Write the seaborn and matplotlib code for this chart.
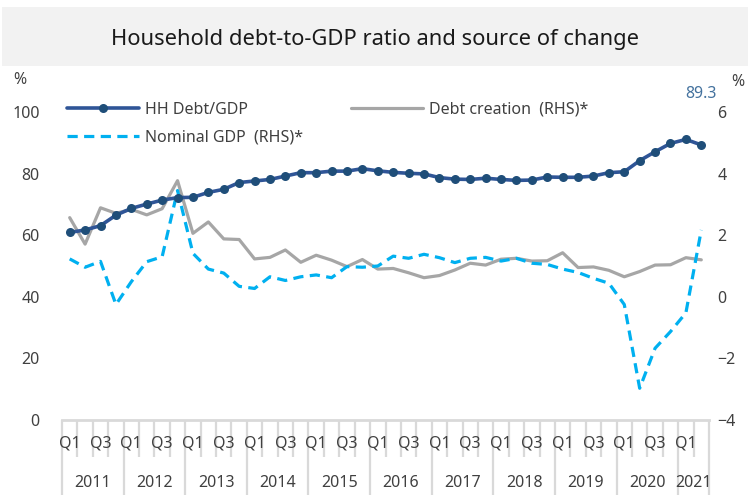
import numpy as np
import pandas as pd
import matplotlib
matplotlib.use("Agg")
import matplotlib.pyplot as plt
import matplotlib.transforms as mtransforms
from matplotlib.patches import Rectangle
import seaborn as sns

# ---------------------------------------------------------------------
# Data: quarterly, 2011Q1 - 2021Q2
# ---------------------------------------------------------------------
years = [str(y) for y in range(2011, 2022)]
quarter_names = ["Q1", "Q2", "Q3", "Q4"]

# HH Debt/GDP (%), left axis
hh_debt = [60.9, 61.7, 63.1, 66.5, 68.7, 70.1, 71.4, 72.2, 72.3, 73.9,
           74.9, 77.1, 77.6, 78.1, 79.2, 80.3, 80.3, 80.8, 80.8, 81.6,
           80.9, 80.4, 80.1, 79.9, 78.7, 78.2, 78.1, 78.5, 78.1, 77.8,
           77.9, 78.9, 78.8, 78.8, 79.2, 80.3, 80.6, 84.2, 87.1, 89.8,
           91.1, 89.3]

# Debt creation (RHS), %
debt_creation = [2.57, 1.71, 2.89, 2.71, 2.84, 2.66, 2.86, 3.77, 2.06, 2.43,
                 1.88, 1.86, 1.23, 1.28, 1.52, 1.12, 1.35, 1.19, 0.98, 1.21,
                 0.90, 0.92, 0.78, 0.62, 0.69, 0.87, 1.09, 1.03, 1.22, 1.25,
                 1.16, 1.17, 1.43, 0.95, 0.97, 0.86, 0.65, 0.82, 1.03, 1.04,
                 1.27, 1.20]

# Nominal GDP (RHS), %
nominal_gdp = [1.23, 0.96, 1.15, -0.25, 0.49, 1.14, 1.30, 3.45, 1.41, 0.90,
               0.77, 0.34, 0.27, 0.65, 0.53, 0.65, 0.71, 0.62, 0.98, 0.96,
               1.00, 1.32, 1.25, 1.38, 1.27, 1.11, 1.25, 1.28, 1.16, 1.25,
               1.09, 1.05, 0.90, 0.79, 0.60, 0.44, -0.25, -2.97, -1.67, -1.13,
               -0.52, 2.17]

n = len(hh_debt)
quarters = [quarter_names[i % 4] for i in range(n)]
year_of = [years[i // 4] for i in range(n)]

df = pd.DataFrame({
    "idx": np.arange(n),
    "year": year_of,
    "quarter": quarters,
    "hh": hh_debt,
    "debt": debt_creation,
    "gdp": nominal_gdp,
})

# ---------------------------------------------------------------------
# Style
# ---------------------------------------------------------------------
sns.set_theme(style="white")
plt.rcParams["font.family"] = ["Noto Sans", "DejaVu Sans"]
txt_col = "#404040"
tick_col = "#d9d9d9"

fig = plt.figure(figsize=(7.5, 4.95), dpi=100)
ax = fig.add_axes([62 / 750, 1 - 420 / 495, 647 / 750, 308 / 495])
ax2 = ax.twinx()

# title box
fig.patches.append(Rectangle((2 / 750, 1 - 66 / 495), 746 / 750, 59 / 495,
                             transform=fig.transFigure, facecolor="#f2f2f2",
                             edgecolor="none", zorder=0))
fig.text(0.5, 1 - 40 / 495, "Household debt-to-GDP ratio and source of change",
         ha="center", va="center", fontsize=15.8, color="#1a1a1a")

# lines
sns.lineplot(data=df, x="idx", y="debt", ax=ax2, color="#a6a6a6", lw=2.3,
             label="Debt creation  (RHS)*")
sns.lineplot(data=df, x="idx", y="gdp", ax=ax2, color="#00b0f0", lw=2.3,
             linestyle=(0, (3.2, 2)), label="Nominal GDP  (RHS)*")
sns.lineplot(data=df, x="idx", y="hh", ax=ax, color="#2f5597", lw=2.6,
             marker="o", markersize=6.5, markeredgewidth=0,
             markerfacecolor="#1f4e79", label="HH Debt/GDP")

ax.set_zorder(ax2.get_zorder() + 1)
ax.patch.set_visible(False)

ax.set_xlim(-0.5, n - 0.5)
ax.set_ylim(0, 100)
ax2.set_ylim(-4, 6)
ax.set_yticks(range(0, 101, 20))
ax2.set_yticks(range(-4, 7, 2))
ax.set_xticks([])
ax.set_xlabel("")
ax.set_ylabel("")
ax2.set_ylabel("")
ax2.set_xlabel("")

ax.tick_params(axis="y", length=0, pad=16, labelsize=11.5, labelcolor=txt_col)
ax2.tick_params(axis="y", length=0, pad=6, labelsize=11.5, labelcolor=txt_col)

for a in (ax, ax2):
    for s in ("top", "left", "right"):
        a.spines[s].set_visible(False)
    a.spines["bottom"].set_color(tick_col)
    a.spines["bottom"].set_linewidth(2)
ax2.spines["bottom"].set_visible(False)

# multi-level category axis
trans = mtransforms.blended_transform_factory(ax.transData, ax.transAxes)
for b in range(n + 1):
    is_year = (b % 4 == 0) or (b == n)
    ax.plot([b - 0.5, b - 0.5], [0, -0.245 if is_year else -0.12],
            transform=trans, color=tick_col, lw=1.6, clip_on=False,
            solid_capstyle="butt")
for i, q in enumerate(quarters):
    if q in ("Q1", "Q3"):
        ax.text(i, -0.075, q, transform=trans, ha="center", va="center",
                fontsize=11.5, color=txt_col)
for y in years:
    idxs = df.loc[df["year"] == y, "idx"]
    ax.text(idxs.mean(), -0.203, y, transform=trans, ha="center",
            va="center", fontsize=11.5, color=txt_col)

# unit labels
fig.text(20 / 750, 1 - 80 / 495, "%", ha="center", va="center",
         fontsize=11.5, color=txt_col)
fig.text(738 / 750, 1 - 82 / 495, "%", ha="center", va="center",
         fontsize=11.5, color=txt_col)

# last value label
ax.annotate(f"{hh_debt[-1]:.1f}", xy=(n - 1, hh_debt[-1]), xytext=(0, 37),
            textcoords="offset points", ha="center", va="center",
            fontsize=11.5, color="#44729e")

# legend
h1, l1 = ax.get_legend_handles_labels()
h2, l2 = ax2.get_legend_handles_labels()
ax.get_legend().remove()
ax2.get_legend().remove()
handles = [h1[0], h2[1], h2[0]]
labels = [l1[0], l2[1], l2[0]]
fig.legend(handles, labels, ncol=2, loc="upper left",
           bbox_to_anchor=(67 / 750, 1 - 102 / 495), frameon=False,
           fontsize=11.5, labelcolor=txt_col, handlelength=4.5,
           handletextpad=0.4, columnspacing=3.0, labelspacing=0.75,
           borderpad=0, borderaxespad=0)

fig.savefig("out.png", dpi=100)
